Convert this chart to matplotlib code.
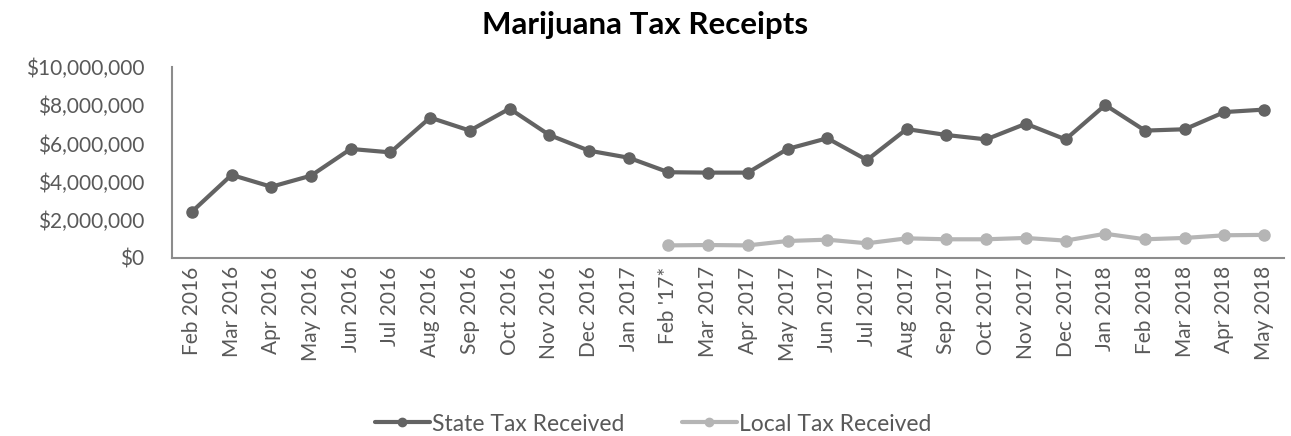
import matplotlib
matplotlib.use("Agg")
import matplotlib.pyplot as plt
from matplotlib.ticker import FuncFormatter

plt.rcParams['font.family'] = ['Lato', 'DejaVu Sans']

months = ["Feb 2016", "Mar 2016", "Apr 2016", "May 2016", "Jun 2016", "Jul 2016",
          "Aug 2016", "Sep 2016", "Oct 2016", "Nov 2016", "Dec 2016", "Jan 2017",
          "Feb '17*", "Mar 2017", "Apr 2017", "May 2017", "Jun 2017", "Jul 2017",
          "Aug 2017", "Sep 2017", "Oct 2017", "Nov 2017", "Dec 2017", "Jan 2018",
          "Feb 2018", "Mar 2018", "Apr 2018", "May 2018"]

state_tax = [2420000, 4350000, 3730000, 4310000, 5710000, 5530000,
             7350000, 6670000, 7820000, 6440000, 5620000, 5250000,
             4490000, 4470000, 4470000, 5710000, 6270000, 5130000,
             6750000, 6440000, 6210000, 7030000, 6210000, 8010000,
             6670000, 6740000, 7640000, 7770000]

# local tax collection starts in Feb 2017
local_months = months[12:]
local_tax = [660000, 680000, 660000, 890000, 960000, 770000,
             1030000, 980000, 980000, 1050000, 910000, 1270000,
             980000, 1050000, 1190000, 1210000]

dark = "#636363"
light = "#b5b5b5"
text_col = "#595959"

fig = plt.figure(figsize=(12.91, 4.36), dpi=100)
ax = fig.add_axes([172 / 1291, 1 - 258 / 436, (1284 - 172) / 1291, (258 - 67) / 436])

x_all = list(range(len(months)))
x_local = [months.index(m) for m in local_months]

ax.plot(x_all, state_tax, color=dark, linewidth=3, marker="o", markersize=8,
        label="State Tax Received", solid_capstyle="round")
ax.plot(x_local, local_tax, color=light, linewidth=3, marker="o", markersize=8,
        label="Local Tax Received", solid_capstyle="round")

ax.set_xlim(-0.5, len(months) - 0.5)
ax.set_ylim(0, 10000000)
ax.set_yticks(range(0, 10000001, 2000000))
ax.yaxis.set_major_formatter(FuncFormatter(lambda v, p: "${:,.0f}".format(v)))
ax.set_xticks(x_all)
ax.set_xticklabels(months, rotation=90)

for s in ["top", "right"]:
    ax.spines[s].set_visible(False)
for s in ["left", "bottom"]:
    ax.spines[s].set_color("#8c8c8c")
    ax.spines[s].set_linewidth(1.5)
ax.tick_params(axis="both", length=0, labelsize=15, colors=text_col)
ax.tick_params(axis="x", pad=6)
ax.tick_params(axis="y", pad=20)

fig.text(0.5, 1 - 25 / 436, "Marijuana Tax Receipts", ha="center", va="center",
         fontsize=22.5, fontweight="bold", color="black")

fig.legend(loc="center", bbox_to_anchor=(0.506, 1 - 424 / 436), ncol=2, frameon=False,
           fontsize=16.5, labelcolor=text_col, handlelength=2.4, columnspacing=2.5,
           handletextpad=0.1, markerscale=0.75)

fig.savefig("out.png", dpi=100)
